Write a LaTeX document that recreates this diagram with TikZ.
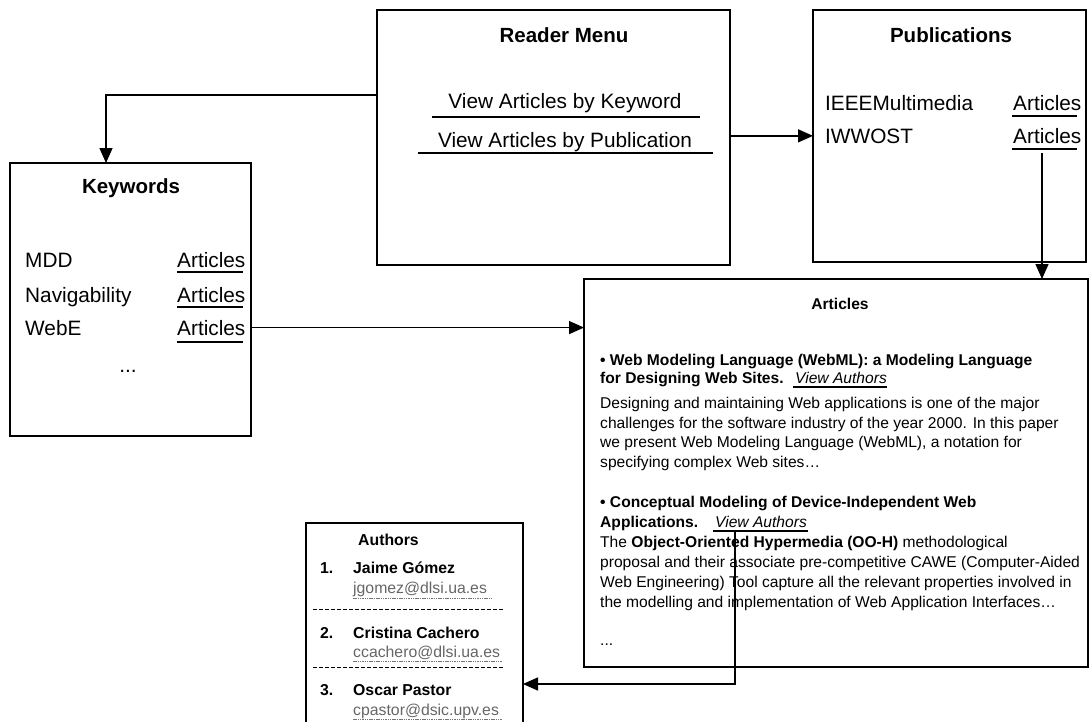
\documentclass[tikz,border=0pt]{standalone}
\usepackage{fontspec}
\setmainfont{Liberation Sans}
\usetikzlibrary{arrows.meta,calc}
\begin{document}
\begin{tikzpicture}[x=1pt,y=-1pt,
  box/.style={draw,line width=1.4pt,rectangle,inner sep=0pt,outer sep=0pt,anchor=north west},
  txt/.style={inner sep=0pt,anchor=base west},
  ctr/.style={inner sep=0pt,anchor=base},
  big/.style={font=\fontsize{20.8}{24}\selectfont},
  bigb/.style={font=\fontsize{20.5}{24}\selectfont\bfseries},
  mid/.style={font=\fontsize{15.6}{18}\selectfont},
  midb/.style={font=\fontsize{15.6}{18}\selectfont\bfseries},
  midi/.style={font=\fontsize{15.6}{18}\selectfont\itshape},
  smlb/.style={font=\fontsize{15.8}{18}\selectfont\bfseries},
  mail/.style={font=\fontsize{15.8}{18}\selectfont, text=black!60},
  uline/.style={line width=1.3pt},
  arr/.style={line width=1.4pt,-{Triangle[length=15pt,width=13pt]}},
  sep/.style={line width=0.9pt,dash pattern=on 4pt off 2pt},
  mailline/.style={line width=0.8pt,black!55,dash pattern=on 1.5pt off 0.8pt}
]
\useasboundingbox (0,0) rectangle (1092,721);

% ---------- windows ----------
\node[box,minimum width=353pt,minimum height=255pt] (menu) at (377,10) {};
\node[box,minimum width=273pt,minimum height=252pt] (pubs) at (813,10) {};
\node[box,minimum width=241pt,minimum height=273pt] (kw) at (10,163) {};
\node[box,minimum width=504pt,minimum height=388pt] (arts) at (584,279) {};
\node[box,minimum width=217pt,minimum height=205pt] (authors) at (306,523) {};

% ---------- Reader Menu ----------
\node[ctr,bigb] (menutitle) at (564,42) {Reader Menu};
\node[ctr,big] (bykw) at (565,108) {View Articles by Keyword};
\node[ctr,big] (bypub) at (565,147) {View Articles by Publication};
\draw[uline] (432,117) -- (700,117);
\draw[uline] (418,153) -- (713,153);

% ---------- Publications ----------
\node[ctr,bigb] (pubtitle) at (951,42) {Publications};
\node[txt,big] (ieee) at (825,110) {IEEEMultimedia};
\node[txt,big] (iw) at (825,143) {IWWOST};
\node[txt,big] (pa1) at (1013,110) {Articles};
\node[txt,big] (pa2) at (1013,143) {Articles};
\draw[uline] (1012,116) -- (1077,116);
\draw[uline] (1012,149) -- (1077,149);

% ---------- Keywords ----------
\node[ctr,bigb] (kwtitle) at (131,193) {Keywords};
\node[txt,big] (k1) at (25,267) {MDD};
\node[txt,big] (k2) at (25,302) {Navigability};
\node[txt,big] (k3) at (25,335) {WebE};
\node[txt,big] (ka1) at (177,267) {Articles};
\node[txt,big] (ka2) at (177,302) {Articles};
\node[txt,big] (ka3) at (177,335) {Articles};
\draw[uline] (177,272) -- (243,272);
\draw[uline] (177,307) -- (243,307);
\draw[uline] (177,342) -- (243,342);
\node[ctr,big] (kdots) at (128,372) {...};

% ---------- Articles ----------
\node[ctr,midb] (artitle) at (840,309) {Articles};
\node[txt,midb] (b1a) at (600,365) {• Web Modeling Language (WebML): a Modeling Language};
\node[txt,midb] (b1b) at (600,383) {for Designing Web Sites.};
\node[txt,midi] (va1) at (795,383) {View Authors};
\draw[uline] (793,387) -- (887,387);
\node[txt,mid] (p1a) at (600,408) {Designing and maintaining Web applications is one of the major};
\node[txt,mid] (p1b) at (600,428) {challenges for the software industry of the year 2000. In this paper};
\node[txt,mid] (p1c) at (600,447) {we present Web Modeling Language (WebML), a notation for};
\node[txt,mid] (p1d) at (600,467) {specifying complex Web sites…};
\node[txt,midb] (b2a) at (600,507) {• Conceptual Modeling of Device-Independent Web};
\node[txt,midb] (b2b) at (600,527) {Applications.};
\node[txt,midi] (va2) at (715,527) {View Authors};
\draw[uline] (713,531) -- (808,531);
\node[txt,mid] (p2a) at (600,547) {The \textbf{Object-Oriented Hypermedia (OO-H)} methodological};
\node[txt,mid] (p2b) at (600,567) {proposal and their associate pre-competitive CAWE (Computer-Aided};
\node[txt,mid] (p2c) at (600,587) {Web Engineering) Tool capture all the relevant properties involved in};
\node[txt,mid] (p2d) at (600,607) {the modelling and implementation of Web Application Interfaces…};
\node[txt,mid] (adots) at (600,645) {...};

% ---------- Authors ----------
\node[txt,smlb] (autitle) at (358,545) {Authors};
\node[txt,smlb] (n1) at (320,573) {1.};
\node[txt,smlb] (a1) at (353,573) {Jaime Gómez};
\node[txt,mail] (m1) at (353,593) {jgomez@dlsi.ua.es};
\draw[mailline] (353,598) -- (492,598);
\draw[sep] (313,609) -- (503,609);
\node[txt,smlb] (n2) at (320,638) {2.};
\node[txt,smlb] (a2) at (353,638) {Cristina Cachero};
\node[txt,mail] (m2) at (353,657) {ccachero@dlsi.ua.es};
\draw[mailline] (353,661) -- (502,661);
\draw[sep] (313,667) -- (503,667);
\node[txt,smlb] (n3) at (320,695) {3.};
\node[txt,smlb] (a3) at (353,695) {Oscar Pastor};
\node[txt,mail] (m3) at (353,715) {cpastor@dsic.upv.es};
\draw[mailline] (353,719) -- (502,719);

% ---------- navigation links ----------
\draw[arr] ($(menu.north west)+(0,85)$) -| ($(kw.north west)+(96,0)$);
\draw[arr] (menu.east |- iw.west) -- (pubs.west |- iw.west);
\draw[arr] ($(pubs.north west)+(229,143)$) -- ($(arts.north west)+(458,0)$);
\draw[arr] (kw.east |- ka3.east) -- (arts.west |- ka3.east);
\draw[arr] ($(va2.base west)+(20,4)$) |- ($(authors.north east)+(0,161)$);
\end{tikzpicture}
\end{document}
